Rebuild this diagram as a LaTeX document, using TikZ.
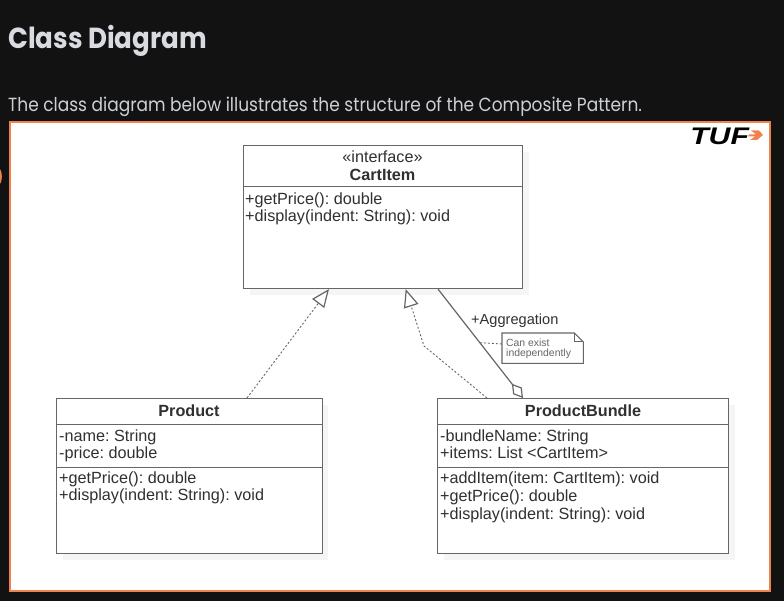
\documentclass[tikz,border=0pt]{standalone}
\usepackage{fontspec}
\setmainfont{Liberation Sans}
\newfontfamily\headfont{Poppins}
\usetikzlibrary{arrows.meta,calc,shadows}
\definecolor{pagebg}{HTML}{121212}
\definecolor{headcol}{HTML}{D9DBE0}
\definecolor{subcol}{HTML}{CDD0D6}
\definecolor{panelline}{HTML}{F0824F}
\definecolor{umlline}{HTML}{666666}
\definecolor{umltext}{HTML}{303030}
\definecolor{shadowcol}{HTML}{F5F5F5}
\tikzset{
  umlbox/.style={draw=umlline,line width=1.1pt,fill=white,anchor=north west,inner sep=0pt,
    copy shadow={shadow xshift=6pt,shadow yshift=-6pt,fill=shadowcol,draw=none}},
  umlsep/.style={draw=umlline,line width=1pt},
  member/.style={anchor=base west,inner sep=0pt,text=umltext,font=\fontsize{16.2}{18}\selectfont},
  title/.style={anchor=base,inner sep=0pt,text=umltext,font=\fontsize{16.2}{18}\selectfont\bfseries},
  stereo/.style={anchor=base,inner sep=0pt,text=umltext,font=\fontsize{16.2}{18}\selectfont},
  notetext/.style={anchor=base west,inner sep=0pt,text=umlline,font=\fontsize{10.4}{12}\selectfont},
  realize/.style={draw=umlline,line width=0.9pt,dash pattern=on 2pt off 2pt,
    -{Triangle[open,length=18pt,width=15pt,fill=white,line width=1.2pt]}},
  aggreg/.style={draw=umlline,line width=1.2pt,
    -{Diamond[open,length=18pt,width=11pt,fill=white,line width=1.2pt]}},
}
\begin{document}
\frenchspacing
\begin{tikzpicture}[x=1pt,y=-1pt]
\useasboundingbox (0,0) rectangle (784,601);
\fill[pagebg] (0,0) rectangle (784,601);
\fill[panelline] (0,169) .. controls (2.5,172) and (2.5,181) .. (0,184) -- cycle;
\node[anchor=base west,inner sep=0pt,xscale=0.9,text=headcol,font=\headfont\fontsize{29}{30}\selectfont\bfseries] (heading) at (8,49) {Class Diagram};
\node[anchor=base west,inner sep=0pt,xscale=0.895,text=subcol,font=\headfont\fontsize{19}{22}\selectfont] (intro) at (8,112) {The class diagram below illustrates the structure of the Composite Pattern.};
\node[draw=panelline,line width=2pt,fill=white,anchor=north west,inner sep=0pt,minimum width=760pt,minimum height=469pt] (panel) at (9,121) {};
% logo
\node[anchor=base west,inner sep=0pt,xscale=1.26,font=\fontsize{24}{24}\selectfont\bfseries\itshape] (logo) at (690,145) {TUF};
\fill[panelline] (751,130.5) -- (759,130.5) -- (763,135) -- (757,140) -- (750,140) -- (755,136.5) -- (748,136.5) -- (749,134.5) -- (756,134.5) -- cycle;
% classes
\node[umlbox,minimum width=279pt,minimum height=143pt] (iface) at (243,145) {};
\node[umlbox,minimum width=265.5pt,minimum height=155pt] (product) at (56,398) {};
\node[umlbox,minimum width=291pt,minimum height=155pt] (bundle) at (437,398) {};
\draw[umlsep] ($(iface.north west)+(0,42)$) -- ($(iface.north east)+(0,42)$);
\draw[umlsep] ($(product.north west)+(0,26)$) -- ($(product.north east)+(0,26)$);
\draw[umlsep] ($(product.north west)+(0,69)$) -- ($(product.north east)+(0,69)$);
\draw[umlsep] ($(bundle.north west)+(0,26)$) -- ($(bundle.north east)+(0,26)$);
\draw[umlsep] ($(bundle.north west)+(0,69)$) -- ($(bundle.north east)+(0,69)$);
\node[stereo] (ifacestereo) at (382.5,163) {«interface»};
\node[title] (ifacename) at (382.5,180.5) {CartItem};
\node[member] (ifaceA) at (245,205) {+getPrice(): double};
\node[member] (ifaceB) at (245,222) {+display(indent: String): void};
\node[title] (productname) at (189,416) {Product};
\node[member] (prodA) at (59,441) {-name: String};
\node[member] (prodB) at (59,458) {-price: double};
\node[member] (prodC) at (59,483) {+getPrice(): double};
\node[member] (prodD) at (59,500) {+display(indent: String): void};
\node[title] (bundlename) at (583,416) {ProductBundle};
\node[member] (bunA) at (440,441) {-bundleName: String};
\node[member] (bunB) at (440,458) {+items: List <CartItem>};
\node[member] (bunC) at (440,483) {+addItem(item: CartItem): void};
\node[member] (bunD) at (440,501) {+getPrice(): double};
\node[member] (bunE) at (440,519) {+display(indent: String): void};
% connectors
\draw[realize] ($(product.north west)+(191,0)$) -- ($(iface.south west)+(86,0)$);
\draw[realize] ($(bundle.north west)+(50,0)$) -- (424,346) -- ($(iface.south west)+(162.7,0)$);
\draw[aggreg] ($(iface.south west)+(195,0)$) -- ($(bundle.north west)+(86,0)$);
\node[member,font=\fontsize{14.6}{18}\selectfont] (agglabel) at (471,325) {+Aggregation};
% note
\node[anchor=north west,inner sep=0pt,minimum width=81pt,minimum height=30pt] (note) at (502,333) {};
\draw[draw=umlline,line width=1.1pt,fill=white] (note.north west) -- ($(note.north east)+(-9,0)$) -- ($(note.north east)+(0,9)$) -- (note.south east) -- (note.south west) -- cycle;
\draw[draw=umlline,line width=1pt] ($(note.north east)+(-9,0)$) -- ($(note.north east)+(-9,9)$) -- ($(note.north east)+(0,9)$);
\coordinate (notefoot) at (480,342.7);
\draw[draw=umlline,line width=0.9pt,dash pattern=on 2pt off 2pt] (notefoot) -- ($(note.north west)+(0,11)$);
\node[notetext] (noteA) at (506,346) {Can exist};
\node[notetext] (noteB) at (506,356) {independently};
\end{tikzpicture}
\end{document}
